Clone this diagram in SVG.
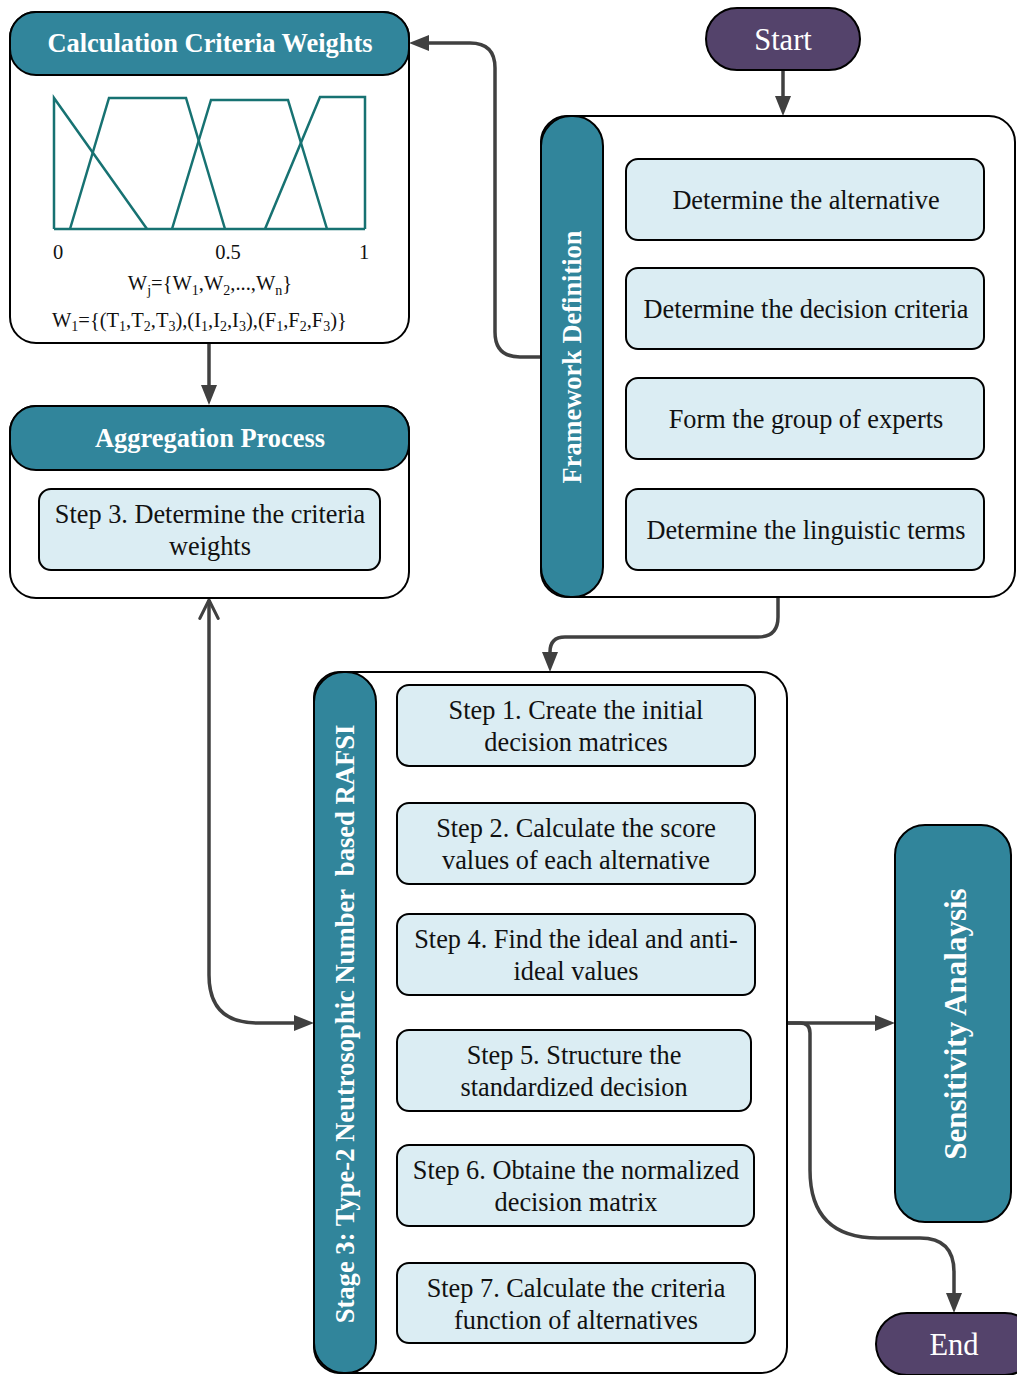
<svg xmlns="http://www.w3.org/2000/svg" width="1017" height="1375" viewBox="0 0 1017 1375" font-family="'Liberation Serif', 'Times New Roman', serif">
<defs>
<style>
text{font-family:"Liberation Serif","Times New Roman",serif;}
.cont{fill:#fff;stroke:#000;stroke-width:2;}
.teal{fill:#31859b;stroke:#000;stroke-width:2;}
.pill{fill:#54436b;stroke:#000;stroke-width:2;}
.step{fill:#dbedf3;stroke:#000;stroke-width:2;}
.hd{fill:#fff;font-weight:bold;font-size:26.4px;text-anchor:middle;}
.pt{fill:#fff;font-size:30.5px;text-anchor:middle;}
.st{fill:#111;font-size:26.3px;text-anchor:middle;}
.fw{fill:#111;font-size:26.3px;text-anchor:middle;}
.fs{fill:#111;font-size:20.5px;}
.big{fill:none;stroke:#404040;stroke-width:3.5;}
.sm{fill:none;stroke:#404040;stroke-width:2;}
.ch{fill:none;stroke:#177272;stroke-width:2.5;stroke-linejoin:miter;}
</style>
<marker id="aB" viewBox="0 0 20 16" refX="0" refY="8" markerWidth="20" markerHeight="16" orient="auto" markerUnits="userSpaceOnUse">
<path d="M0,0 L20,8 L0,16 z" fill="#404040"/>
</marker>
<marker id="as" viewBox="0 0 12 10" refX="0" refY="5" markerWidth="12" markerHeight="10" orient="auto" markerUnits="userSpaceOnUse">
<path d="M0,0 L12,5 L0,10 z" fill="#404040"/>
</marker>
<marker id="open" viewBox="0 0 12 12" refX="11" refY="6" markerWidth="22" markerHeight="22" orient="auto" markerUnits="userSpaceOnUse">
<path d="M1,1 L11,6 L1,11" fill="none" stroke="#404040" stroke-width="1.7" stroke-linecap="round"/>
</marker>
</defs>

<g id="connectors">
<path class="big" d="M209,344 V385" marker-end="url(#aB)"/>
<path class="big" d="M783,71 V96" marker-end="url(#aB)"/>
<path class="big" d="M541,357 H520 Q495,357 495,332 V68 Q495,43 470,43 H429" marker-end="url(#aB)"/>
<path class="big" d="M778,598 V617 Q778,637 758,637 H565 Q550,637 550,652" marker-end="url(#aB)"/>
<path class="big" d="M209,975 Q209,1023 257,1023 H294" marker-end="url(#aB)"/>
<path class="big" d="M209,975 V600" marker-end="url(#open)"/>
<path class="big" d="M787,1023 H875" marker-end="url(#aB)"/>
<path class="big" d="M787,1023 H800 Q810,1023 810,1033 V1170 Q810,1238 878,1238 H920 Q954,1238 954,1272 V1293" marker-end="url(#aB)"/>
<path class="sm" d="M805,241 V256" marker-end="url(#as)"/>
<path class="sm" d="M805,350 V366" marker-end="url(#as)"/>
<path class="sm" d="M805,460 V489"/>
<path class="sm" d="M576,767 V791" marker-end="url(#as)"/>
<path class="sm" d="M576,885 V902" marker-end="url(#as)"/>
<path class="sm" d="M575,996 Q574,1006 574,1018" marker-end="url(#as)"/>
<path class="sm" d="M574,1112 Q576,1122 576,1133" marker-end="url(#as)"/>
<path class="sm" d="M574,1227 Q576,1238 576,1251" marker-end="url(#as)"/>
</g>

<g id="calc-weights">
<rect class="cont" x="10" y="12" width="399" height="331" rx="26"/>
<rect class="teal" x="10" y="12" width="399" height="63" rx="26"/>
<text class="hd" x="210" y="52">Calculation Criteria Weights</text>
<path class="ch" d="M54,229 H365"/>
<path class="ch" d="M54,229 V98 L147,229"/>
<path class="ch" d="M70,229 L109,98 H186 L225,229"/>
<path class="ch" d="M172,229 L211,100 H288 L327,229"/>
<path class="ch" d="M265,229 L320,97 H365 V229"/>
<text class="fs" x="58" y="259" text-anchor="middle">0</text>
<text class="fs" x="228" y="259" text-anchor="middle">0.5</text>
<text class="fs" x="364" y="259" text-anchor="middle">1</text>
<text class="fs" x="210" y="290" text-anchor="middle">W<tspan font-size="14" dy="5">j</tspan><tspan dy="-5">={W</tspan><tspan font-size="14" dy="5">1</tspan><tspan dy="-5">,W</tspan><tspan font-size="14" dy="5">2</tspan><tspan dy="-5">,...,W</tspan><tspan font-size="14" dy="5">n</tspan><tspan dy="-5">}</tspan></text>
<text class="fs" x="52" y="327">W<tspan font-size="14" dy="4">1</tspan><tspan dy="-4">={(T</tspan><tspan font-size="14" dy="4">1</tspan><tspan dy="-4">,T</tspan><tspan font-size="14" dy="4">2</tspan><tspan dy="-4">,T</tspan><tspan font-size="14" dy="4">3</tspan><tspan dy="-4">),(I</tspan><tspan font-size="14" dy="4">1</tspan><tspan dy="-4">,I</tspan><tspan font-size="14" dy="4">2</tspan><tspan dy="-4">,I</tspan><tspan font-size="14" dy="4">3</tspan><tspan dy="-4">),(F</tspan><tspan font-size="14" dy="4">1</tspan><tspan dy="-4">,F</tspan><tspan font-size="14" dy="4">2</tspan><tspan dy="-4">,F</tspan><tspan font-size="14" dy="4">3</tspan><tspan dy="-4">)}</tspan></text>
</g>

<g id="aggregation">
<rect class="cont" x="10" y="406" width="399" height="192" rx="26"/>
<rect class="teal" x="10" y="406" width="399" height="64" rx="26"/>
<text class="hd" x="210" y="447">Aggregation Process</text>
<rect class="step" x="39" y="489" width="341" height="81" rx="12"/>
<text class="st" x="210" y="523">Step 3. Determine the criteria</text>
<text class="st" x="210" y="555">weights</text>
</g>

<g id="start">
<rect class="pill" x="706" y="8" width="154" height="62" rx="31"/>
<text class="pt" x="783" y="50">Start</text>
</g>

<g id="framework">
<rect class="cont" x="541" y="116" width="474" height="481" rx="26"/>
<rect class="teal" x="541" y="116" width="62" height="481" rx="30"/>
<text class="hd" transform="translate(581,357) rotate(-90)">Framework Definition</text>
</g>
<g id="fw-alt"><rect class="step" x="626" y="159" width="358" height="81" rx="12"/><text class="fw" x="806" y="209">Determine the alternative</text></g>
<g id="fw-crit"><rect class="step" x="626" y="268" width="358" height="81" rx="12"/><text class="fw" x="806" y="318">Determine the decision criteria</text></g>
<g id="fw-exp"><rect class="step" x="626" y="378" width="358" height="81" rx="12"/><text class="fw" x="806" y="428">Form the group of experts</text></g>
<g id="fw-ling"><rect class="step" x="626" y="489" width="358" height="81" rx="12"/><text class="fw" x="806" y="539">Determine the linguistic terms</text></g>

<g id="stage3">
<rect class="cont" x="314" y="672" width="473" height="701" rx="26"/>
<rect class="teal" x="314" y="672" width="62" height="701" rx="30"/>
<text class="hd" xml:space="preserve" transform="translate(354,1024) rotate(-90)" style="font-size:26.6px">Stage 3: Type-2 Neutrosophic Number  based RAFSI</text>
</g>
<g id="step1"><rect class="step" x="397" y="685" width="358" height="81" rx="12"/><text class="st" x="576" y="719">Step 1. Create the initial</text><text class="st" x="576" y="751">decision matrices</text></g>
<g id="step2"><rect class="step" x="397" y="803" width="358" height="81" rx="12"/><text class="st" x="576" y="837">Step 2. Calculate the score</text><text class="st" x="576" y="869">values of each alternative</text></g>
<g id="step4"><rect class="step" x="397" y="914" width="358" height="81" rx="12"/><text class="st" x="576" y="948">Step 4. Find the ideal and anti-</text><text class="st" x="576" y="980">ideal values</text></g>
<g id="step5"><rect class="step" x="397" y="1030" width="354" height="81" rx="12"/><text class="st" x="574" y="1064">Step 5. Structure the</text><text class="st" x="574" y="1096">standardized decision</text></g>
<g id="step6"><rect class="step" x="397" y="1145" width="357" height="81" rx="12"/><text class="st" x="576" y="1179">Step 6. Obtaine the normalized</text><text class="st" x="576" y="1211">decision matrix</text></g>
<g id="step7"><rect class="step" x="397" y="1263" width="358" height="80" rx="12"/><text class="st" x="576" y="1297">Step 7. Calculate the criteria</text><text class="st" x="576" y="1329">function of alternatives</text></g>

<g id="sensitivity">
<rect class="teal" x="895" y="825" width="116" height="397" rx="30"/>
<text class="hd" transform="translate(966,1024) rotate(-90)" style="font-size:31px">Sensitivity Analaysis</text>
</g>

<g id="end">
<rect class="pill" x="876" y="1313" width="160" height="62" rx="31"/>
<text class="pt" x="954" y="1355">End</text>
</g>
</svg>
